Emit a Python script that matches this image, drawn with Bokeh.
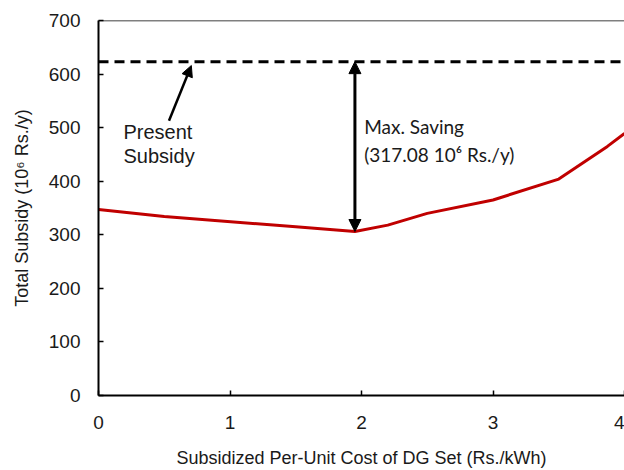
from bokeh.plotting import figure
from bokeh.models import Range1d, Span, Arrow, NormalHead, Label
from bokeh.embed import file_html
from bokeh.resources import INLINE

# ---- data ----
cost = [0.0, 0.5, 1.5, 1.95, 2.2, 2.5, 3.0, 3.5, 3.87, 4.0]
subsidy = [347, 334, 315, 306.1, 318, 340, 365, 404, 465, 489]
present_subsidy = 623.2
max_saving = 317.08
x_ticks = [0, 1, 2, 3, 4]
y_ticks = [0, 100, 200, 300, 400, 500, 600, 700]

TXT = "#1a1a1a"
FONT = "Liberation Sans"

p = figure(width=624, height=470, output_backend="svg", toolbar_location=None,
           x_range=Range1d(0, 4), y_range=Range1d(0, 700),
           min_border_left=98, min_border_right=0, min_border_top=20,
           min_border_bottom=74)
p.background_fill_color = "white"
p.border_fill_color = "white"
p.grid.visible = False
p.outline_line_color = None

for ax in (p.xaxis[0], p.yaxis[0]):
    ax.axis_line_width = 2
    ax.axis_line_color = "black"
    ax.major_tick_in = 5
    ax.major_tick_out = 0
    ax.major_tick_line_width = 1.5
    ax.minor_tick_line_color = None
    ax.major_label_text_font = FONT
    ax.major_label_text_font_size = "19px"
    ax.major_label_text_color = TXT
    ax.axis_label_text_font = FONT
    ax.axis_label_text_font_size = "18px"
    ax.axis_label_text_font_style = "normal"
    ax.axis_label_text_color = TXT

p.xaxis.ticker = x_ticks
p.yaxis.ticker = y_ticks
p.xaxis.major_label_standoff = 20
p.yaxis.major_label_standoff = 18
p.xaxis.axis_label = "Subsidized Per-Unit Cost of DG Set (Rs./kWh)"
p.yaxis.axis_label = "Total Subsidy (10\u2076 Rs./y)"
p.xaxis.axis_label_standoff = 16
p.yaxis.axis_label_standoff = 14

# top border of the plot area
p.add_layout(Span(location=y_ticks[-1], dimension="width",
                  line_color="black", line_width=1.5))

# total subsidy curve
p.line(cost, subsidy, line_color="#C00000", line_width=3)

# present subsidy level
p.add_layout(Span(location=present_subsidy, dimension="width",
                  line_color="black", line_width=3, line_dash="10 6"))

# max saving double arrow
i_min = subsidy.index(min(subsidy))
x_min = cost[i_min]
p.add_layout(Arrow(x_start=x_min, y_start=present_subsidy - max_saving,
                   x_end=x_min, y_end=present_subsidy,
                   line_color="black", line_width=3,
                   start=NormalHead(size=12, fill_color="black", line_color="black"),
                   end=NormalHead(size=12, fill_color="black", line_color="black")))

# arrow pointing to present subsidy
p.add_layout(Arrow(x_start=0.536, y_start=513, x_end=0.706, y_end=616,
                   line_color="black", line_width=2.5,
                   end=NormalHead(size=11, fill_color="black", line_color="black")))

for txt, yy in (("Present", 491), ("Subsidy", 447)):
    p.add_layout(Label(x=0.19, y=yy, text=txt, text_font=FONT,
                       text_font_size="20px", text_color=TXT,
                       text_baseline="alphabetic"))

for txt, yy in (("Max. Saving", 502), ("(%.2f 10\u2076 Rs./y)" % max_saving, 450)):
    p.add_layout(Label(x=2.02, y=yy, text=txt, text_font="Lato",
                       text_font_size="19px", text_color=TXT,
                       text_baseline="alphabetic"))

open("out.html", "w").write(file_html(p, INLINE))
